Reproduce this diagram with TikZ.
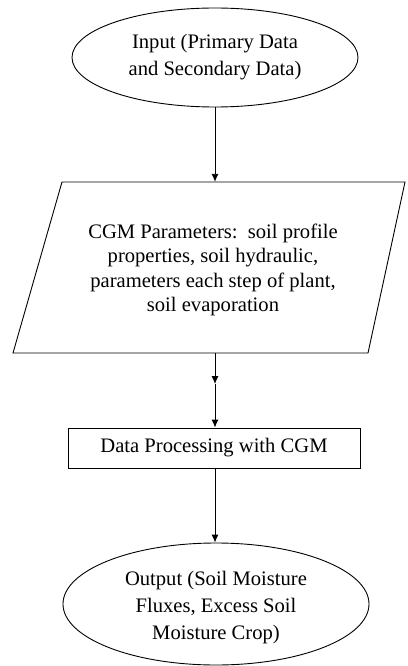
\documentclass[tikz,border=0pt]{standalone}
\usepackage{fontspec}
\setmainfont{Liberation Serif}
\usetikzlibrary{shapes.geometric,arrows.meta}
\begin{document}
\begin{tikzpicture}[x=1pt,y=-1pt,
  every node/.style={font=\fontsize{20.6}{27}\selectfont, align=center, inner sep=0pt},
  shapeline/.style={draw=black, line width=0.9pt},
  oval/.style={shapeline, ellipse},
  flow/.style={line width=0.9pt, -{Latex[length=8pt,width=7pt]}}]
\useasboundingbox (0,0) rectangle (407,666);
\node[oval, minimum width=286pt, minimum height=99pt] (in) at (215,57.5) {Input (Primary Data\\and Secondary Data)};
\node[minimum width=344pt, minimum height=171pt] (par) at (212,267.5) {};
\draw[shapeline] (62,182) -- (405,182) -- (368,353) -- (13,353) -- cycle;
\node[font=\fontsize{20.6}{24.5}\selectfont] (partext) at (213,270) {CGM Parameters:\ \ soil profile\\properties, soil hydraulic,\\parameters each step of plant,\\soil evaporation};
\coordinate (mid) at (215,384);
\node[shapeline, minimum width=292pt, minimum height=40pt] (proc) at (214,448) {Data Processing with CGM};
\node[oval, minimum width=306pt, minimum height=122pt] (out) at (216,604) {};
\node (outtext) at (216,607.5) {Output (Soil Moisture\\Fluxes, Excess Soil\\Moisture Crop)};
\draw[flow] (in.south) -- (in.south |- par.north);
\draw[flow] (mid |- par.south) -- (mid);
\draw[flow] (mid) -- (mid |- proc.north);
\draw[flow] (mid |- proc.south) -- (mid |- out.north);
\end{tikzpicture}
\end{document}
